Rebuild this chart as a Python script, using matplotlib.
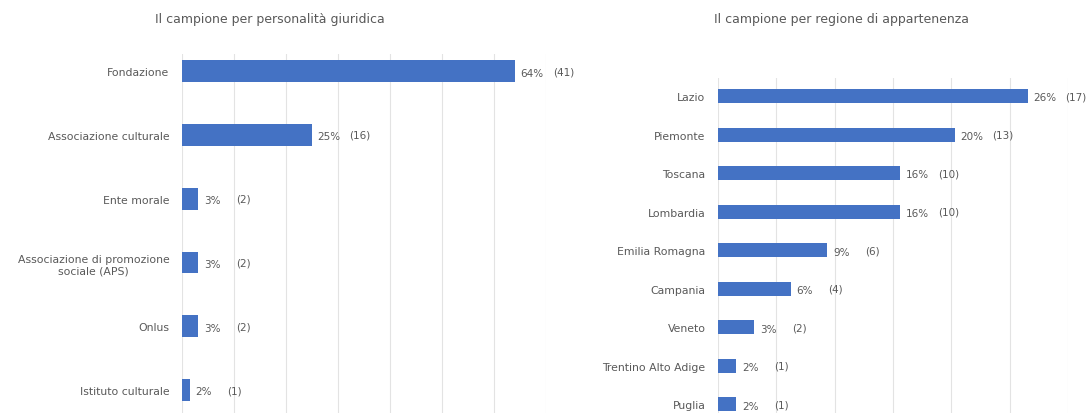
import matplotlib.pyplot as plt

# dati: personalità giuridica
giur_cat = ["Fondazione", "Associazione culturale", "Ente morale",
            "Associazione di promozione\nsociale (APS)", "Onlus", "Istituto culturale"]
giur_n = [41, 16, 2, 2, 2, 1]
giur_pct = ["64%", "25%", "3%", "3%", "3%", "2%"]

# dati: regione di appartenenza
reg_cat = ["Lazio", "Piemonte", "Toscana", "Lombardia", "Emilia Romagna",
           "Campania", "Veneto", "Trentino Alto Adige", "Puglia"]
reg_n = [17, 13, 10, 10, 6, 4, 2, 1, 1]
reg_pct = ["26%", "20%", "16%", "16%", "9%", "6%", "3%", "2%", "2%"]

BLUE = "#4472C4"
GREY = "#595959"
GRID = "#E3E3E3"

W, H = 1087, 414
fig = plt.figure(figsize=(W / 100, H / 100), dpi=100)


def draw(ax, cats, n, pct, xmax, step, ylim, bh):
    tot = sum(n)
    vals = [100.0 * v / tot for v in n]
    y = list(range(len(cats)))
    ax.barh(y, vals, height=bh, color=BLUE, zorder=2)
    for yi, v, p, c in zip(y, vals, pct, n):
        ax.annotate(p, (v, yi), xytext=(4, -1), textcoords="offset points",
                    va="center", ha="left", fontsize=7.5, color=GREY)
        ax.annotate("(%d)" % c, (v, yi), xytext=(27, 0), textcoords="offset points",
                    va="center", ha="left", fontsize=7.5, color=GREY)
    ax.set_yticks(y)
    ax.set_yticklabels(cats, fontsize=7.8, color=GREY, ha="right",
                       multialignment="center")
    ax.set_ylim(*ylim)
    ax.set_xlim(0, xmax)
    ax.set_xticks(range(0, xmax + 1, step))
    ax.tick_params(axis="x", length=0, labelbottom=False)
    ax.tick_params(axis="y", length=0, pad=9)
    ax.grid(axis="x", color=GRID, linewidth=0.8, zorder=0)
    for s in ax.spines.values():
        s.set_visible(False)


# pannello sinistro
ax1 = fig.add_axes([182 / W, 0, (546 - 182) / W, 1 - 55 / H])
draw(ax1, giur_cat, giur_n, giur_pct, 70, 10, (5.36, -0.27), 0.34)

# pannello destro
ax2 = fig.add_axes([718 / W, 0, (1068 - 718) / W, 1 - 79 / H])
draw(ax2, reg_cat, reg_n, reg_pct, 30, 5, (8.23, -0.47), 0.36)

fig.text(270 / W, 1 - 20 / H, "Il campione per personalità giuridica",
         ha="center", va="center", fontsize=9, color=GREY)
fig.text(842 / W, 1 - 20 / H, "Il campione per regione di appartenenza",
         ha="center", va="center", fontsize=9, color=GREY)

fig.savefig("out.png", dpi=100)
